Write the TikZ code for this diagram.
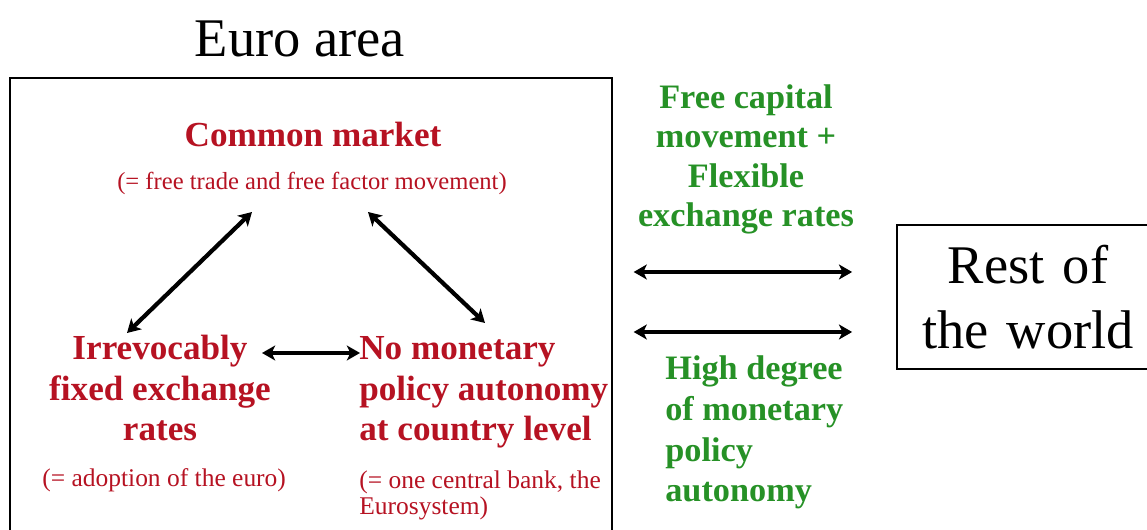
\documentclass[tikz,border=0pt]{standalone}
\usepackage{fontspec}
\setmainfont{Liberation Serif}
\usetikzlibrary{arrows.meta}

\definecolor{marketred}{RGB}{182,18,34}
\definecolor{worldgreen}{RGB}{38,145,38}

\tikzset{
  frame/.style={draw, line width=1pt},
  heading/.style={font=\fontsize{31}{37}\selectfont, inner sep=0pt},
  redhead/.style={text=marketred, font=\fontsize{20}{23.2}\selectfont\bfseries, inner sep=0pt},
  rednote/.style={text=marketred, font=\fontsize{14.5}{15.3}\selectfont, inner sep=0pt},
  greenhead/.style={text=worldgreen, font=\fontsize{19.5}{22.5}\selectfont\bfseries, inner sep=0pt},
  twoway/.style={{Stealth[length=7.5pt,width=8.5pt,inset=2pt]}-{Stealth[length=7.5pt,width=8.5pt,inset=2pt]}, line width=2.4pt},
}

\begin{document}
\begin{tikzpicture}[x=0.02cm, y=0.02cm]
\path[use as bounding box, clip] (0,0) rectangle (1147,530);

\node[frame, anchor=north west, minimum width=12.04cm, minimum height=11cm] (euro) at (9,453) {};
\node[heading, anchor=base] (title) at (300,473) {Euro area};
\node[frame, heading, align=center, text width=5cm, inner xsep=0.12cm, minimum height=2.88cm] (rest) at (1028,233) {Rest of\\the world};

\node[redhead, anchor=base] (common) at (313,383) {Common market};
\node[rednote, font=\fontsize{14}{16}\selectfont, anchor=base] (note) at (312,340) {(= free trade and free factor movement)};
\node[redhead, align=center, anchor=base] (fixed) at (160,89) {Irrevocably\\fixed exchange\\rates};
\node[redhead, align=left, anchor=base west] (nomon) at (359,89) {No monetary\\policy autonomy\\at country level};
\node[rednote, anchor=base west] (euronote) at (42,43) {(= adoption of the euro)};
\node[rednote, align=left, anchor=base west] (banknote) at (359,15) {(= one central bank, the\\Eurosystem)};

\node[greenhead, align=center, anchor=base] (openness) at (746,303) {Free capital\\movement +\\Flexible\\exchange rates};
\node[greenhead, font=\fontsize{19.5}{23.2}\selectfont\bfseries, align=left, anchor=base west] (autonomy) at (665,28) {High degree\\of monetary\\policy\\autonomy};

\draw[twoway] ([shift={(-60,-22)}]note.base) -- ([shift={(-33,108)}]fixed.base);
\draw[twoway] ([shift={(56,-22)}]note.base) -- ([shift={(126,118)}]nomon.base west);
\draw[twoway] ([shift={(102,88)}]fixed.base) -- ([shift={(1,88)}]nomon.base west);

\draw[twoway] ([shift={(21,-195)}]euro.north east) -- ([shift={(-44,25)}]rest.west);
\draw[twoway] ([shift={(21,-255)}]euro.north east) -- ([shift={(-44,-35)}]rest.west);
\end{tikzpicture}
\end{document}
